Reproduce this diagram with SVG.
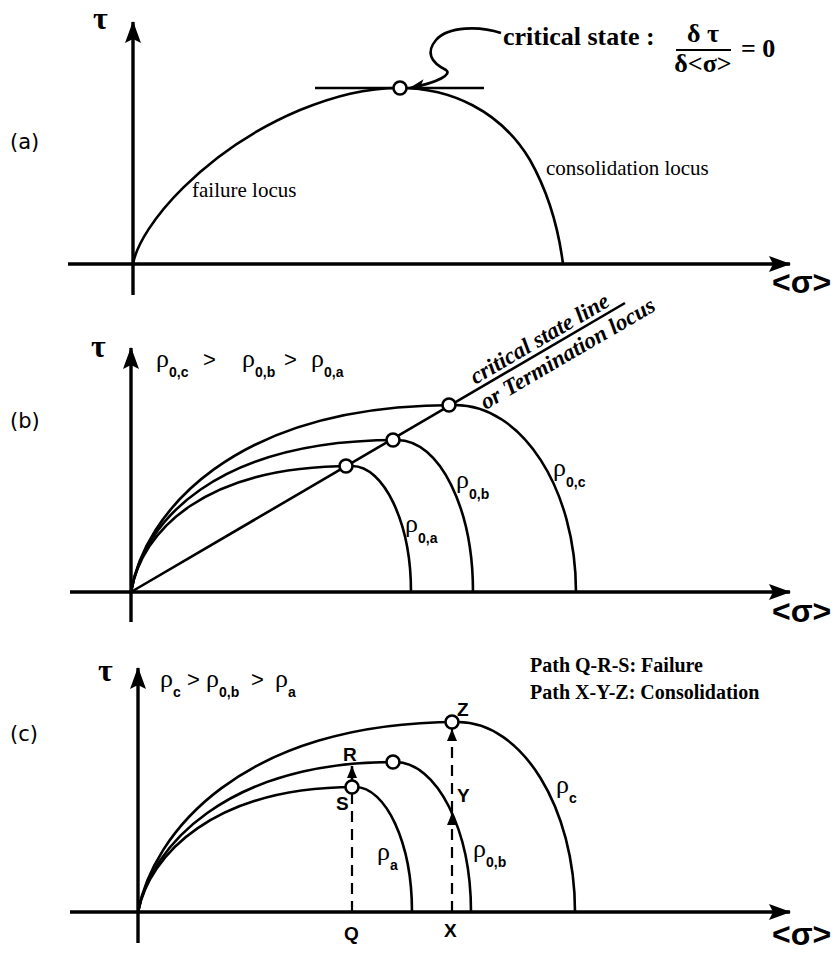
<svg xmlns="http://www.w3.org/2000/svg" width="839" height="953" viewBox="0 0 839 953">
<style>
.ax{stroke:#000;stroke-width:3.4;fill:none}
.cv{stroke:#000;stroke-width:2.6;fill:none}
.dash{stroke:#000;stroke-width:2.2;stroke-dasharray:11 7;fill:none}
.pt{fill:#fff;stroke:#000;stroke-width:2.6}
.tau{font-family:"Liberation Serif",serif;font-weight:bold;font-size:32px}
.sig{font-family:"Liberation Sans",sans-serif;font-weight:bold;font-size:32px}
.pl{font-family:"DejaVu Sans",sans-serif;font-size:21px}
.lbl{font-family:"Liberation Serif",serif;font-size:21px}
.bl{font-family:"Liberation Serif",serif;font-weight:bold;font-size:26px}
.path{font-family:"Liberation Serif",serif;font-weight:bold;font-size:20px}
.csl{font-family:"Liberation Serif",serif;font-weight:bold;font-style:italic;font-size:23px}
.rho{font-family:"Liberation Serif",serif;font-size:26px}
.sub{font-family:"Liberation Sans",sans-serif;font-weight:bold;font-size:14px}
.gt{font-family:"Liberation Sans",sans-serif;font-size:22px}
.pk{font-family:"Liberation Sans",sans-serif;font-weight:bold;font-size:19px}
</style>
<defs>
<marker id="axarr" viewBox="0 0 22 16" refX="21" refY="8" markerWidth="22" markerHeight="16" markerUnits="userSpaceOnUse" orient="auto"><path d="M0,0 L22,8 L0,16 L4,8 z" fill="#000"/></marker>
<marker id="sarr" viewBox="0 0 12 10" refX="12" refY="5" markerWidth="12" markerHeight="10" markerUnits="userSpaceOnUse" orient="auto"><path d="M0,0 L12,5 L0,10 z" fill="#000"/></marker>
<marker id="qarr" viewBox="0 0 16 12" refX="15" refY="6" markerWidth="16" markerHeight="12" markerUnits="userSpaceOnUse" orient="auto"><path d="M0,0 L16,6 L0,12 L4,6 z" fill="#000"/></marker>
</defs>
<rect width="839" height="953" fill="#fff"/>

<g id="panel-a">
<line class="ax" x1="133" y1="295" x2="133" y2="22" marker-end="url(#axarr)"/>
<line class="ax" x1="68" y1="264" x2="790" y2="264" marker-end="url(#axarr)"/>
<text class="tau" x="93" y="29">τ</text>
<text class="sig" x="772" y="293">&lt;σ&gt;</text>
<text class="pl" x="10" y="149">(a)</text>
<g id="failure-consolidation-locus">
<path class="cv" d="M133,264 C140,225 205,150 300,110 C335,96 365,88 400,88 C450,88 500,110 530,160 C548,192 558,225 563,264"/>
<line class="cv" x1="315" y1="88" x2="484" y2="88"/>
</g>
<g id="critical-point-a"><circle class="pt" cx="400" cy="88" r="6.5"/></g>
<text class="lbl" x="192" y="197">failure locus</text>
<text class="lbl" x="546" y="175">consolidation locus</text>
<g id="critical-state-label">
<text class="bl" x="503" y="45">critical state :</text>
<text class="bl" x="703" y="42" text-anchor="middle">δ τ</text>
<line x1="676" y1="50" x2="731" y2="50" stroke="#000" stroke-width="2"/>
<text class="bl" x="703" y="72" text-anchor="middle">δ&lt;σ&gt;</text>
<text class="bl" x="741" y="57">= 0</text>
</g>
</g>

<g id="panel-b">
<line class="ax" x1="131" y1="622" x2="131" y2="348" marker-end="url(#axarr)"/>
<line class="ax" x1="70" y1="592" x2="790" y2="592" marker-end="url(#axarr)"/>
<text class="tau" x="91" y="357">τ</text>
<text class="sig" x="772" y="622">&lt;σ&gt;</text>
<text class="pl" x="10" y="428">(b)</text>
<g id="b-order">
<text class="rho" x="156" y="367">ρ</text><text class="sub" x="169" y="377">0,c</text>
<text class="gt" x="203" y="367">&gt;</text>
<text class="rho" x="242" y="367">ρ</text><text class="sub" x="255" y="377">0,b</text>
<text class="gt" x="284" y="367">&gt;</text>
<text class="rho" x="311" y="367">ρ</text><text class="sub" x="324" y="377">0,a</text>
</g>
<g id="critical-state-line">
<line class="cv" x1="131" y1="592" x2="625" y2="303"/>
<g transform="translate(131,592) rotate(-30.33)">
<text class="csl" x="402" y="-5">critical state line</text>
<text class="csl" x="398" y="22">or Termination locus</text>
</g>
</g>
<g id="b-rho-0a"><path class="cv" d="M131,592 C142,530 205,466 352,466 C384,466 411,523 411,592"/>
<text class="rho" x="405" y="532">ρ</text><text class="sub" x="418" y="543">0,a</text></g>
<g id="b-rho-0b"><path class="cv" d="M131,592 C143,522 215,440 397,440 C440,440 473,509 473,592"/>
<text class="rho" x="456" y="488">ρ</text><text class="sub" x="469" y="499">0,b</text></g>
<g id="b-rho-0c"><path class="cv" d="M131,592 C144,515 230,405 455,405 C522,405 576,489 576,592"/>
<text class="rho" x="553" y="476">ρ</text><text class="sub" x="566" y="487">0,c</text></g>
<g id="b-points">
<circle class="pt" cx="346" cy="466" r="6.5"/>
<circle class="pt" cx="393" cy="440" r="6.5"/>
<circle class="pt" cx="449" cy="405" r="6.5"/>
</g>
</g>

<g id="panel-c">
<line class="ax" x1="138" y1="943" x2="138" y2="668" marker-end="url(#axarr)"/>
<line class="ax" x1="70" y1="912" x2="790" y2="912" marker-end="url(#axarr)"/>
<text class="tau" x="98" y="681">τ</text>
<text class="sig" x="772" y="945">&lt;σ&gt;</text>
<text class="pl" x="10" y="741">(c)</text>
<g id="c-order">
<text class="rho" x="160" y="687">ρ</text><text class="sub" x="173" y="697">c</text>
<text class="gt" x="187" y="687">&gt;</text>
<text class="rho" x="206" y="687">ρ</text><text class="sub" x="219" y="697">0,b</text>
<text class="gt" x="251" y="687">&gt;</text>
<text class="rho" x="275" y="687">ρ</text><text class="sub" x="288" y="697">a</text>
</g>
<g id="c-paths-legend">
<text class="path" x="530" y="672">Path Q-R-S: Failure</text>
<text class="path" x="530" y="699">Path X-Y-Z: Consolidation</text>
</g>
<g id="c-rho-a"><path class="cv" d="M138,912 C149,855 214,787 355,787 C386,787 412,843 412,912"/>
<text class="rho" x="377" y="860">ρ</text><text class="sub" x="390" y="870">a</text></g>
<g id="c-rho-0b"><path class="cv" d="M138,912 C150,848 225,762 395,762 C437,762 471,830 471,912"/>
<text class="rho" x="473" y="857">ρ</text><text class="sub" x="486" y="867">0,b</text></g>
<g id="c-rho-c"><path class="cv" d="M138,912 C152,835 240,722 458,722 C522,722 575,808 575,912"/>
<text class="rho" x="556" y="793">ρ</text><text class="sub" x="569" y="803">c</text></g>
<g id="c-points">
<circle class="pt" cx="352" cy="787" r="6.5"/>
<circle class="pt" cx="393" cy="762" r="6.5"/>
<circle class="pt" cx="452" cy="722" r="6.5"/>
</g>
<g id="c-point-labels">
<text class="pk" x="343" y="761">R</text>
<text class="pk" x="336" y="810">S</text>
<text class="pk" x="457" y="802">Y</text>
<text class="pk" x="457" y="716">Z</text>
<text class="pk" x="344" y="940">Q</text>
<text class="pk" x="444" y="937">X</text>
</g>
</g>

<g id="connectors">
<path class="cv" d="M501,33 C480,26 448,26 436,40 C426,52 430,62 446,70 C452,74 440,82 410,88" marker-end="url(#qarr)"/>
<line class="dash" x1="352" y1="912" x2="352" y2="794"/>
<line class="cv" x1="352" y1="781" x2="352" y2="766" marker-end="url(#sarr)"/>
<line class="dash" x1="452" y1="912" x2="452" y2="813" marker-end="url(#sarr)"/>
<line class="dash" x1="452" y1="812" x2="452" y2="729" marker-end="url(#sarr)"/>
</g>
</svg>
